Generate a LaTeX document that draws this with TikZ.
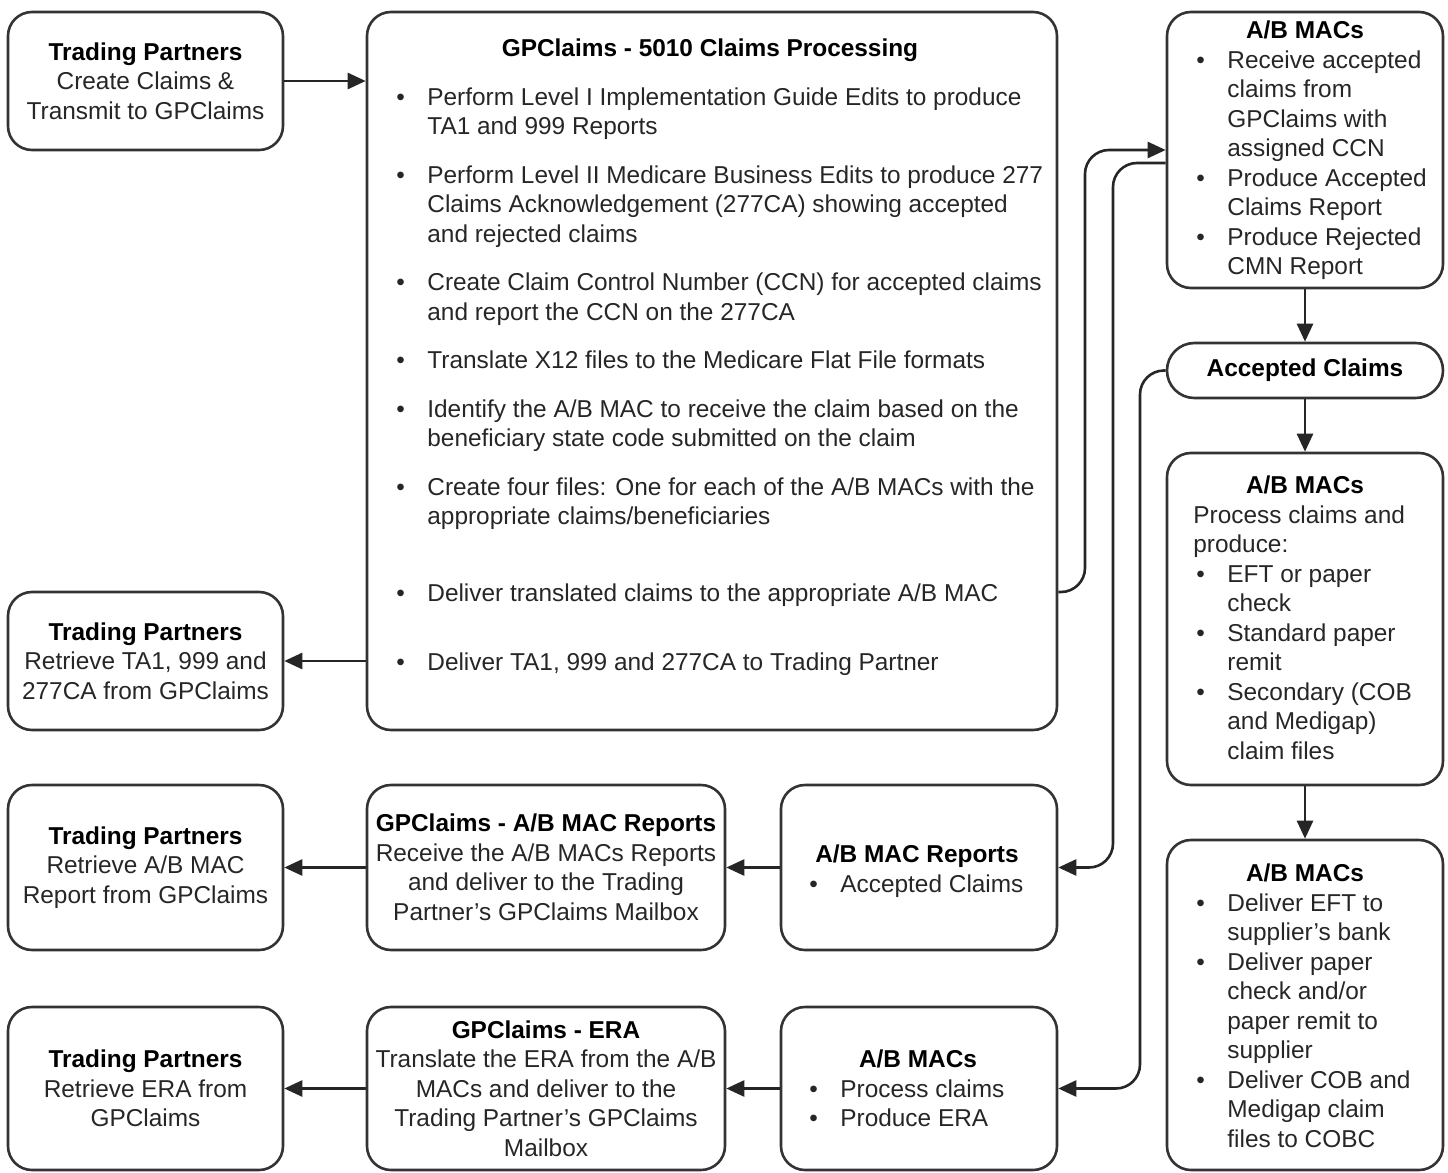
\documentclass[tikz,border=0pt]{standalone}
\usepackage{fontspec}
\setmainfont{Liberation Sans}
\usetikzlibrary{arrows.meta,fit,calc}
\newcommand{\dfont}{\fontsize{12.2pt}{14.75pt}\selectfont}
\newcommand{\bul}{\makebox[15.5pt][l]{\textbullet}}
\newcommand{\ind}{\hspace*{15.5pt}}
\newcommand{\ttlb}[1]{{\color{black}\bfseries #1}}
\begin{document}
\begin{tikzpicture}[x=0.5pt,y=-0.5pt,
  every node/.style={font=\dfont, text=black!85},
  box/.style={draw=black!80, line width=1.3pt, rounded corners=12pt, inner sep=0pt},
  ctext/.style={align=center, inner sep=0pt, anchor=center},
  ttl/.style={font=\dfont\bfseries, text=black, anchor=base, inner sep=0pt},
  body/.style={anchor=north west, align=left, inner sep=0pt},
  arr/.style={draw=black!85, line width=1.3pt, -{Triangle[length=9pt,width=8pt]}},
  conn/.style={arr, rounded corners=12pt}]
\useasboundingbox (0,0) rectangle (1448,1173);

% ---------- boxes ----------
\node[box, fit={(8,12) (283,150)}] (tp1) {};
\node[box, fit={(8,592) (283,730)}] (tp2) {};
\node[box, fit={(8,785) (283,950)}] (tp3) {};
\node[box, fit={(8,1007) (283,1170)}] (tp4) {};
\node[box, fit={(367,785) (725,950)}] (gprep) {};
\node[box, fit={(367,1007) (725,1170)}] (era) {};
\node[box, fit={(781,785) (1057,950)}] (abrep) {};
\node[box, fit={(781,1007) (1057,1170)}] (ab4) {};
\node[box, fit={(367,12) (1057,730)}] (main) {};
\node[box, fit={(1167,12) (1443,288)}] (ab1) {};
\node[box, rounded corners=13.7pt, fit={(1167,343) (1443,398)}] (acc) {};
\node[box, fit={(1167,453) (1443,785)}] (ab2) {};
\node[box, fit={(1167,840) (1443,1170)}] (ab3) {};

% ---------- centred texts ----------
\node[ctext] (tp1t) at (tp1.center) {\ttlb{Trading Partners}\\Create Claims \&\\Transmit to GPClaims};
\node[ctext] (tp2t) at (tp2.center) {\ttlb{Trading Partners}\\Retrieve TA1, 999 and\\277CA from GPClaims};
\node[ctext] (tp3t) at (tp3.center) {\ttlb{Trading Partners}\\Retrieve A/B MAC\\Report from GPClaims};
\node[ctext] (tp4t) at (tp4.center) {\ttlb{Trading Partners}\\Retrieve ERA from\\GPClaims};
\node[ctext] (gprept) at (gprep.center) {\ttlb{GPClaims - A/B MAC Reports}\\Receive the A/B MACs Reports\\and deliver to the Trading\\Partner’s GPClaims Mailbox};
\node[ctext] (erat) at (era.center) {\ttlb{GPClaims - ERA}\\Translate the ERA from the A/B\\MACs and deliver to the\\Trading Partner’s GPClaims\\Mailbox};
\node[ctext] (acct) at (acc.center) {\ttlb{Accepted Claims}};

% ---------- left-aligned texts ----------
\node[ttl] (maint) at (710,56) {GPClaims - 5010 Claims Processing};
\node[body] (mainb) at (396,84.35) {\strut\bul Perform Level I Implementation Guide Edits to produce\\
\ind TA1 and 999 Reports\\[9.5pt]
\bul Perform Level II Medicare Business Edits to produce 277\\
\ind Claims Acknowledgement (277CA) showing accepted\\
\ind and rejected claims\\[9.5pt]
\bul Create Claim Control Number (CCN) for accepted claims\\
\ind and report the CCN on the 277CA\\[9.5pt]
\bul Translate X12 files to the Medicare Flat File formats\\[9.5pt]
\bul Identify the A/B MAC to receive the claim based on the\\
\ind beneficiary state code submitted on the claim\\[9.5pt]
\bul Create four files: One for each of the A/B MACs with the\\
\ind appropriate claims/beneficiaries\\[23.75pt]
\bul Deliver translated claims to the appropriate A/B MAC\\[19.75pt]
\bul Deliver TA1, 999 and 277CA to Trading Partner};

\node[ttl] (ab1t) at (1305,38) {A/B MACs};
\node[body] (ab1b) at (1196,47.35) {\strut\bul Receive accepted\\
\ind claims from\\
\ind GPClaims with\\
\ind assigned CCN\\
\bul Produce Accepted\\
\ind Claims Report\\
\bul Produce Rejected\\
\ind CMN Report};

\node[ttl] (ab2t) at (1305,493) {A/B MACs};
\node[body] (ab2b) at (1193,502.35) {\strut Process claims and\\
produce:\\
\hspace*{1.5pt}\bul EFT or paper\\
\hspace*{1.5pt}\ind check\\
\hspace*{1.5pt}\bul Standard paper\\
\hspace*{1.5pt}\ind remit\\
\hspace*{1.5pt}\bul Secondary (COB\\
\hspace*{1.5pt}\ind and Medigap)\\
\hspace*{1.5pt}\ind claim files};

\node[ttl] (ab3t) at (1305,881) {A/B MACs};
\node[body] (ab3b) at (1196,890.35) {\strut\bul Deliver EFT to\\
\ind supplier’s bank\\
\bul Deliver paper\\
\ind check and/or\\
\ind paper remit to\\
\ind supplier\\
\bul Deliver COB and\\
\ind Medigap claim\\
\ind files to COBC};

\node[ttl] (abrept) at (917,862) {A/B MAC Reports};
\node[body] (abrepb) at (809,871.35) {\strut\bul Accepted Claims};

\node[ttl] (ab4t) at (918,1067) {A/B MACs};
\node[body] (ab4b) at (809,1076.35) {\strut\bul Process claims\\
\bul Produce ERA};

% ---------- connectors ----------
\coordinate (y592) at (0,592);
\coordinate (y150) at (0,150);
\coordinate (y163) at (0,163);
\coordinate (k1a) at (1085,592);
\coordinate (k1b) at (1085,150);
\coordinate (k2a) at (1113,163);
\coordinate (k2b) at (1113,867.5);
\coordinate (k3a) at (1140,370.5);
\coordinate (k3b) at (1140,1088.5);

\draw[arr] (tp1.east) -- (tp1.east -| main.west);
\draw[arr] (main.west |- tp2.east) -- (tp2.east);
\draw[conn] (main.east |- y592) -- (k1a) -- (k1b) -- (ab1.west |- y150);
\draw[conn] (ab1.west |- y163) -- (k2a) -- (k2b) -- (abrep.east);
\draw[conn] (acc.west) -- (k3a) -- (k3b) -- (ab4.east);
\draw[arr] (abrep.west) -- (gprep.east);
\draw[arr] (gprep.west) -- (tp3.east);
\draw[arr] (ab4.west) -- (era.east);
\draw[arr] (era.west) -- (tp4.east);
\draw[arr] (ab1.south) -- (acc.north);
\draw[arr] (acc.south) -- (ab2.north);
\draw[arr] (ab2.south) -- (ab3.north);
\end{tikzpicture}
\end{document}
